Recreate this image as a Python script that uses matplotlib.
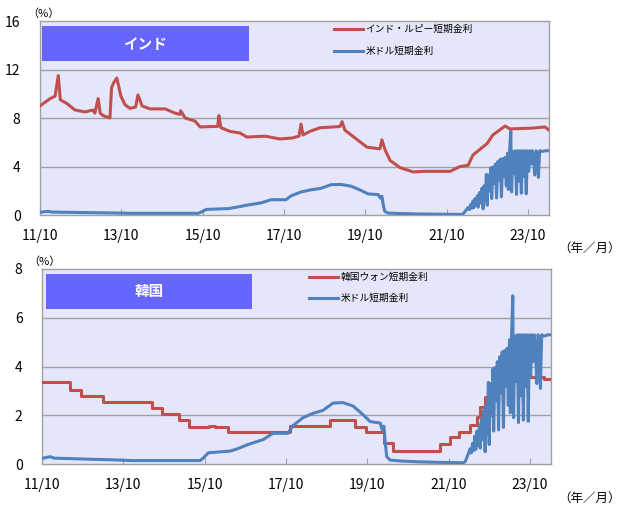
import matplotlib
matplotlib.use("Agg")
import matplotlib.pyplot as plt
from matplotlib.patches import Rectangle
import numpy as np

plt.rcParams['font.family'] = ['Noto Sans CJK JP', 'DejaVu Sans']

# ---- data (decimal year, %) ----
inr_t = [2011.75, 2012.0, 2012.12, 2012.20, 2012.25, 2012.41, 2012.61, 2012.86, 2013.05, 2013.10,
         2013.18, 2013.23, 2013.30, 2013.47, 2013.51, 2013.56, 2013.64, 2013.74, 2013.84, 2013.96,
         2014.10, 2014.16, 2014.26, 2014.46, 2014.83, 2015.07, 2015.19, 2015.21, 2015.32, 2015.56,
         2015.69, 2015.98, 2016.12, 2016.15, 2016.20, 2016.42, 2016.67, 2016.84, 2017.29, 2017.65,
         2017.95, 2018.12, 2018.17, 2018.22, 2018.39, 2018.64, 2018.96, 2019.13, 2019.18, 2019.25,
         2019.50, 2019.79, 2020.11, 2020.16, 2020.24, 2020.36, 2020.61, 2020.93, 2021.17, 2021.84,
         2022.08, 2022.28, 2022.40, 2022.75, 2022.89, 2023.19, 2023.31, 2023.88, 2024.17, 2024.27]
inr_v = [9.0, 9.6, 9.8, 11.5, 9.5, 9.2, 8.66, 8.5, 8.66, 8.4,
         9.6, 8.4, 8.2, 8.0, 10.5, 10.9, 11.3, 9.8, 9.1, 8.8,
         8.9, 9.9, 9.0, 8.75, 8.75, 8.4, 8.3, 8.6, 8.0, 7.75,
         7.26, 7.3, 7.3, 8.2, 7.2, 6.9, 6.76, 6.43, 6.5, 6.27,
         6.35, 6.5, 7.5, 6.6, 6.9, 7.2, 7.26, 7.3, 7.7, 7.0,
         6.35, 5.6, 5.45, 6.2, 5.36, 4.5, 3.9, 3.55, 3.6, 3.6,
         4.0, 4.1, 4.95, 5.9, 6.6, 7.34, 7.1, 7.17, 7.26, 7.0]

krw_t = [2011.75, 2012.45, 2012.70, 2013.25, 2014.45, 2014.70, 2015.12, 2015.37, 2015.85, 2016.00,
         2016.33, 2016.80, 2017.85, 2018.83, 2019.45, 2019.72, 2020.15, 2020.38, 2021.54, 2021.79,
         2022.00, 2022.28, 2022.44, 2022.52, 2022.65, 2022.73, 2022.90, 2023.09, 2023.92, 2024.10,
         2024.27]
krw_v = [3.38, 3.04, 2.79, 2.56, 2.30, 2.05, 1.80, 1.53, 1.57, 1.53,
         1.30, 1.33, 1.57, 1.80, 1.53, 1.33, 0.85, 0.55, 0.82, 1.12,
         1.33, 1.60, 1.94, 2.35, 2.76, 3.17, 3.45, 3.58, 3.55, 3.49,
         3.49]

usd_t = [2011.75, 2011.95, 2012.05, 2012.85, 2013.5, 2014.0, 2015.64, 2015.72, 2015.84, 2016.38,
         2016.55, 2016.82, 2017.0, 2017.19, 2017.43, 2017.80, 2017.92, 2018.17, 2018.42, 2018.66,
         2018.91, 2019.15, 2019.40, 2019.65, 2019.82, 2020.07, 2020.12, 2020.16, 2020.19, 2020.23,
         2020.31, 2020.60, 2021.00, 2021.46, 2022.11,
         2022.16, 2022.22, 2022.28, 2022.31, 2022.34, 2022.37, 2022.40, 2022.42, 2022.45, 2022.48,
         2022.51, 2022.53, 2022.56, 2022.59, 2022.62, 2022.65, 2022.67, 2022.70, 2022.73, 2022.75,
         2022.78, 2022.81, 2022.84, 2022.86, 2022.89, 2022.92, 2022.95, 2022.98, 2023.01, 2023.04,
         2023.07, 2023.10, 2023.13, 2023.16, 2023.19, 2023.22, 2023.25, 2023.27, 2023.30, 2023.33,
         2023.35, 2023.38, 2023.41, 2023.44, 2023.47, 2023.50, 2023.53, 2023.56, 2023.59, 2023.62,
         2023.65, 2023.68, 2023.71, 2023.74, 2023.77, 2023.80, 2023.83, 2023.86, 2023.89, 2023.92,
         2023.95, 2023.98, 2024.01, 2024.04, 2024.10, 2024.20, 2024.27]
usd_v = [0.23, 0.30, 0.24, 0.20, 0.17, 0.14, 0.14, 0.25, 0.46, 0.53,
         0.62, 0.80, 0.90, 1.00, 1.26, 1.26, 1.57, 1.90, 2.08, 2.20,
         2.50, 2.52, 2.38, 2.02, 1.74, 1.68, 1.40, 1.55, 0.90, 0.30,
         0.16, 0.12, 0.09, 0.07, 0.05,
         0.10, 0.35, 0.62, 0.45, 0.85, 0.55, 1.15, 0.60, 1.35, 0.75,
         1.60, 0.65, 1.85, 1.00, 2.20, 0.50, 2.40, 1.20, 3.35, 0.80,
         3.30, 2.00, 3.90, 1.35, 3.95, 2.60, 4.20, 1.40, 4.40, 2.90,
         4.60, 1.50, 4.65, 3.20, 4.75, 2.40, 5.10, 2.10, 5.25, 6.90,
         1.90, 5.25, 3.40, 5.30, 1.70, 5.30, 2.80, 5.30, 1.80, 5.30,
         3.20, 5.30, 1.75, 5.30, 3.60, 5.30, 4.20, 5.30, 4.60, 3.30,
         5.30, 5.10, 3.10, 5.30, 5.25, 5.30, 5.30]

xtick_pos = [2011.75, 2013.75, 2015.75, 2017.75, 2019.75, 2021.75, 2023.75]
xtick_lab = ['11/10', '13/10', '15/10', '17/10', '19/10', '21/10', '23/10']

red = '#C0504D'
blue = '#4F81BD'
bg = '#E6E6FA'
gc = '#A0A0A0'

fig = plt.figure(figsize=(6.24, 5.11), dpi=100)
ax1 = fig.add_axes([40/624, 1-215/511, 509/624, 194/511])
ax2 = fig.add_axes([42/624, 1-464/511, 509/624, 195/511])


def style_ax(ax, ymax, ystep):
    ax.set_facecolor(bg)
    ax.set_xlim(2011.75, 2024.27)
    ax.set_ylim(0, ymax)
    ax.set_yticks(np.arange(0, ymax+0.1, ystep))
    ax.set_xticks(xtick_pos)
    ax.set_xticklabels(xtick_lab)
    for yv in np.arange(ystep, ymax, ystep):
        ax.axhline(yv, color=gc, lw=1, zorder=1)
    for s in ax.spines.values():
        s.set_color(gc)
        s.set_linewidth(1)
    ax.tick_params(axis='y', length=0, pad=14, labelsize=10)
    ax.tick_params(axis='x', direction='in', length=4, color=gc, pad=10, labelsize=10)


style_ax(ax1, 16, 4)
ax1.plot(inr_t, inr_v, color=red, lw=2.2, zorder=3, label='インド・ルピー短期金利')
ax1.plot(usd_t, usd_v, color=blue, lw=2.2, zorder=3, label='米ドル短期金利')

style_ax(ax2, 8, 2)
ax2.plot(krw_t, krw_v, color=red, lw=2.2, zorder=3, drawstyle='steps-post', label='韓国ウォン短期金利')
ax2.plot(usd_t, usd_v, color=blue, lw=2.2, zorder=4, label='米ドル短期金利')

# title boxes
for ax, name, x0, x1, y0, y1 in [(ax1, 'インド', 0.004, 0.41, 0.794, 0.974),
                                  (ax2, '韓国', 0.008, 0.412, 0.796, 0.974)]:
    ax.add_patch(Rectangle((x0, y0), x1-x0, y1-y0, transform=ax.transAxes,
                           facecolor='#6666FF', edgecolor='none', zorder=5))
    ax.text((x0+x1)/2, (y0+y1)/2, name, transform=ax.transAxes, color='white',
            fontsize=10.5, fontweight='bold', ha='center', va='center', zorder=6)

ax1.legend(loc='upper left', bbox_to_anchor=(0.578, 0.985), frameon=False, fontsize=7,
           handlelength=3.0, handletextpad=0.2, labelspacing=1.25, borderpad=0, borderaxespad=0)
ax2.legend(loc='upper left', bbox_to_anchor=(0.525, 0.985), frameon=False, fontsize=7,
           handlelength=3.0, handletextpad=0.2, labelspacing=1.15, borderpad=0, borderaxespad=0)

fig.text(27/624, 1-14/511, '（%）', fontsize=8, ha='left', va='center')
fig.text(28/624, 1-262/511, '（%）', fontsize=8, ha='left', va='center')
fig.text(621/624, 1-248/511, '（年／月）', fontsize=9, ha='right', va='center')
fig.text(621/624, 1-498/511, '（年／月）', fontsize=9, ha='right', va='center')

fig.savefig('out.png', dpi=100)
